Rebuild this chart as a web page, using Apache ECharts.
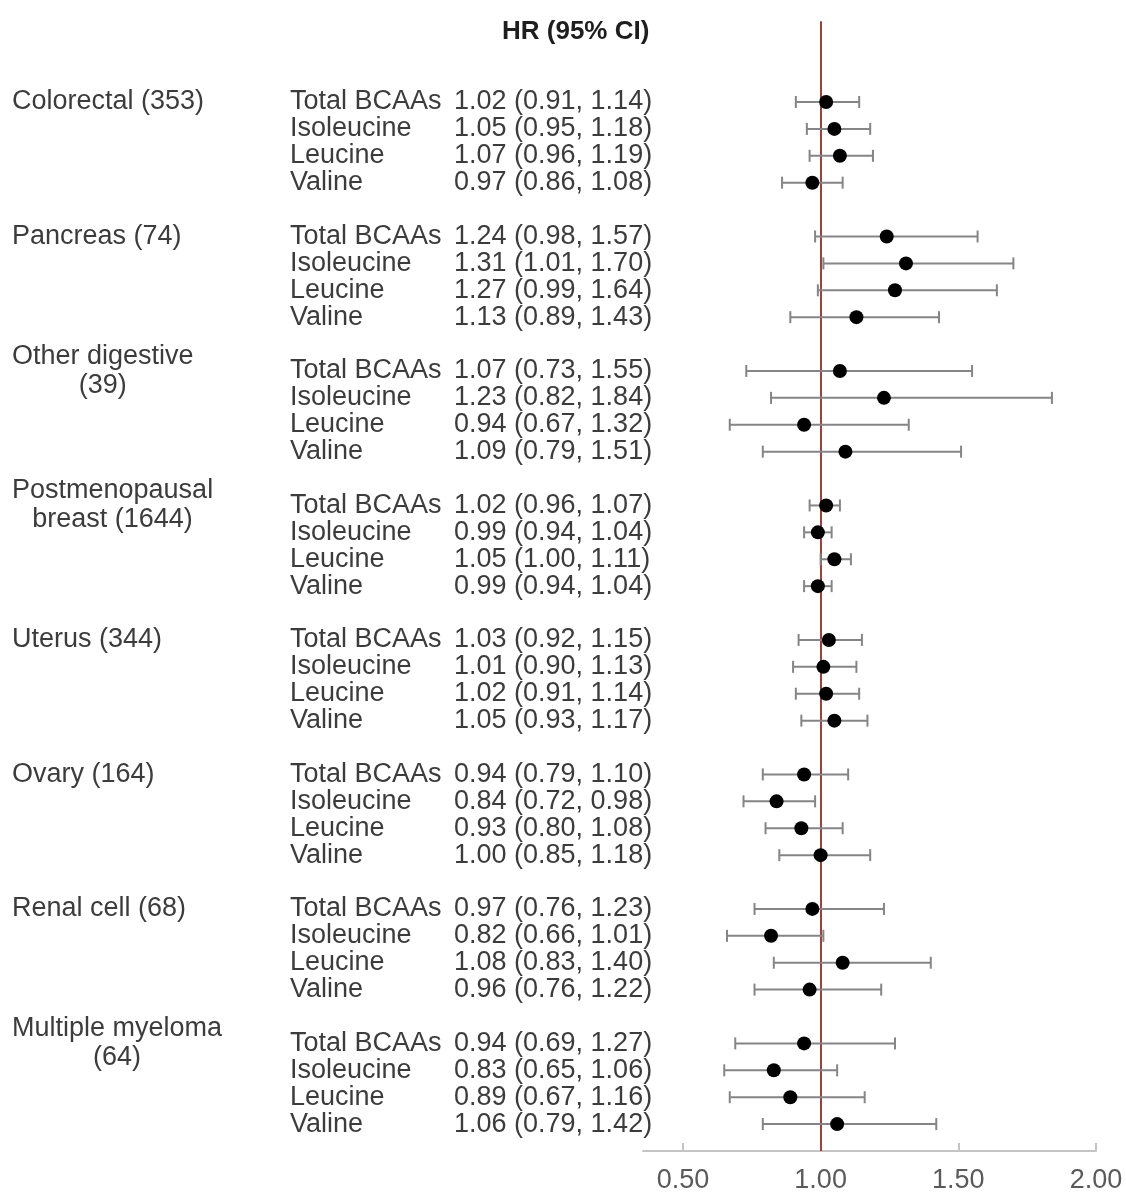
<!DOCTYPE html>
<html>
<head>
<meta charset="utf-8">
<script src="https://cdn.jsdelivr.net/npm/echarts@6/dist/echarts.min.js"></script>
<style>html,body{margin:0;padding:0;background:#fff}#c{width:1126px;height:1194px}</style>
</head>
<body>
<div id="c"></div>
<script>
const cancers = ['Colorectal (353)', 'Pancreas (74)', 'Other digestive\n(39)', 'Postmenopausal\nbreast (1644)', 'Uterus (344)', 'Ovary (164)', 'Renal cell (68)', 'Multiple myeloma\n(64)'];
const exposures = ['Total BCAAs', 'Isoleucine', 'Leucine', 'Valine'];
const hr    = [[1.02,1.05,1.07,0.97],[1.24,1.31,1.27,1.13],[1.07,1.23,0.94,1.09],[1.02,0.99,1.05,0.99],[1.03,1.01,1.02,1.05],[0.94,0.84,0.93,1.00],[0.97,0.82,1.08,0.96],[0.94,0.83,0.89,1.06]];
const lower = [[0.91,0.95,0.96,0.86],[0.98,1.01,0.99,0.89],[0.73,0.82,0.67,0.79],[0.96,0.94,1.00,0.94],[0.92,0.90,0.91,0.93],[0.79,0.72,0.80,0.85],[0.76,0.66,0.83,0.76],[0.69,0.65,0.67,0.79]];
const upper = [[1.14,1.18,1.19,1.08],[1.57,1.70,1.64,1.43],[1.55,1.84,1.32,1.51],[1.07,1.04,1.11,1.04],[1.15,1.13,1.14,1.17],[1.10,0.98,1.08,1.18],[1.23,1.01,1.40,1.22],[1.27,1.06,1.16,1.42]];
const xTicks = [0.5, 1.0, 1.5, 2.0];

const rows = [];
cancers.forEach((c, g) => {
  exposures.forEach((e, k) => {
    rows.push([hr[g][k], lower[g][k], upper[g][k], g * 5 + k, g, k]);
  });
});

const FONT = '"Liberation Sans", Arial, sans-serif';
const TXT = '#3c3c3c';
const chart = echarts.init(document.getElementById('c'), null, {renderer: 'canvas'});
chart.setOption({
  backgroundColor: '#ffffff',
  animation: false,
  title: {
    text: 'HR (95% CI)', left: 497, top: 14,
    textStyle: {fontFamily: FONT, fontWeight: 'bold', fontSize: 26, color: '#1e1e1e'}
  },
  grid: {left: 643, right: 30, top: 21.3, bottom: 42.9},
  xAxis: {
    type: 'value', min: 0.355, max: 2.0, position: 'bottom',
    axisLine: {show: true, onZero: false, lineStyle: {color: '#c4c4c4', width: 2}},
    axisTick: {show: true, inside: true, length: 8, customValues: xTicks, lineStyle: {color: '#c4c4c4', width: 2}},
    axisLabel: {customValues: xTicks, formatter: v => v.toFixed(2), fontFamily: FONT, fontSize: 27, color: '#5a5a5a', margin: 16},
    splitLine: {show: false}
  },
  yAxis: {type: 'value', inverse: true, min: -3, max: 39, show: false, splitLine: {show: false}},
  series: [
    {
      type: 'custom', name: 'ci', z: 2, clip: false,
      data: rows,
      renderItem: (params, api) => {
        const y = api.coord([1, api.value(3)])[1];
        const x1 = api.coord([api.value(1), 0])[0];
        const x2 = api.coord([api.value(2), 0])[0];
        const st = {stroke: '#858585', lineWidth: 2};
        return {type: 'group', children: [
          {type: 'line', shape: {x1, y1: y, x2, y2: y}, style: st},
          {type: 'line', shape: {x1: x1, y1: y - 6, x2: x1, y2: y + 6}, style: st},
          {type: 'line', shape: {x1: x2, y1: y - 6, x2: x2, y2: y + 6}, style: st}
        ]};
      },
      markLine: {
        silent: true, symbol: 'none', z: 1,
        label: {show: false},
        lineStyle: {color: '#a0403c', width: 2, type: 'solid'},
        data: [{xAxis: 1}]
      }
    },
    {
      type: 'scatter', name: 'hr', z: 5,
      symbol: 'circle', symbolSize: 14,
      itemStyle: {color: '#000000', opacity: 1},
      data: rows.map(r => [r[0], r[3]])
    },
    {
      type: 'custom', name: 'labels', z: 3, clip: false, silent: true,
      data: rows,
      renderItem: (params, api) => {
        const y = api.coord([1, api.value(3)])[1];
        const g = api.value(4), k = api.value(5);
        const font = '27px ' + FONT;
        const children = [
          {type: 'text', x: 290, y: y, style: {text: exposures[k], font, fill: TXT, align: 'left', verticalAlign: 'middle'}},
          {type: 'text', x: 454, y: y, style: {text: hr[g][k].toFixed(2) + ' (' + lower[g][k].toFixed(2) + ', ' + upper[g][k].toFixed(2) + ')', font, fill: TXT, align: 'left', verticalAlign: 'middle'}}
        ];
        if (k === 0) {
          const name = cancers[g];
          if (name.indexOf('\n') >= 0) {
            const lines = name.split('\n');
            const w = Math.max.apply(null, lines.map(l => echarts.format.getTextRect ? echarts.format.getTextRect(l, font).width : l.length * 13));
            children.push({type: 'text', x: 12 + w / 2, y: y, style: {text: name, font, fill: TXT, align: 'center', verticalAlign: 'middle', lineHeight: 29}});
          } else {
            children.push({type: 'text', x: 12, y: y, style: {text: name, font, fill: TXT, align: 'left', verticalAlign: 'middle'}});
          }
        }
        return {type: 'group', children};
      }
    }
  ]
});
</script>
</body>
</html>
